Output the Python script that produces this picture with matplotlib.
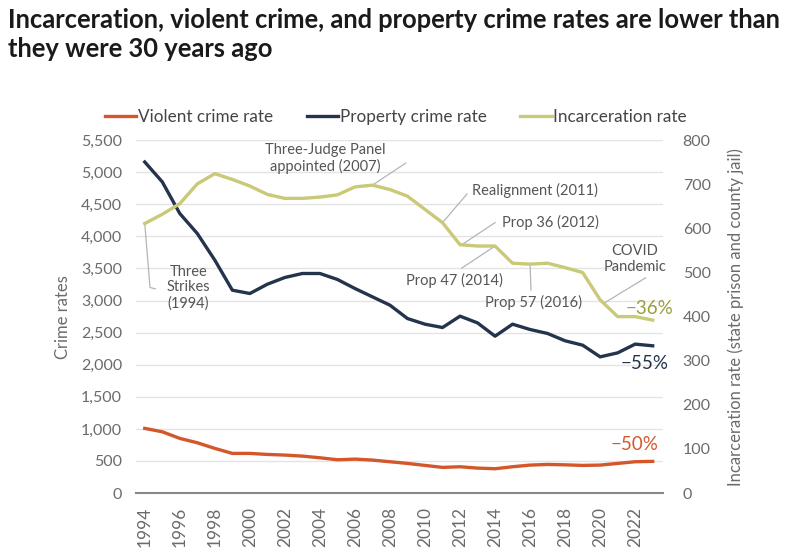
import matplotlib.pyplot as plt
import numpy as np

years = np.arange(1994, 2024)

violent = [1008, 955, 852, 784, 696, 618, 618, 602, 592, 576,
           550, 519, 529, 514, 488, 462, 431, 400, 410, 389,
           379, 410, 436, 446, 440, 431, 436, 462, 488, 494]

property_crime = [5160, 4850, 4357, 4045, 3630, 3162, 3110, 3255, 3360, 3422,
                  3422, 3329, 3188, 3058, 2928, 2720, 2632, 2580, 2757, 2652,
                  2445, 2632, 2549, 2487, 2373, 2305, 2123, 2185, 2321, 2295]

incarceration = [611, 632, 656, 701, 724, 711, 696, 677, 668, 668,
                 671, 676, 694, 698, 688, 673, 643, 613, 563, 560,
                 560, 521, 519, 521, 511, 500, 438, 400, 400, 392]

left_ticks = np.arange(0, 5501, 500)
right_ticks = np.arange(0, 801, 100)
x_ticks = np.arange(1994, 2023, 2)

VIOLENT = "#d4572b"
PROPERTY = "#24344d"
INCAR = "#c9c977"
INCAR_TXT = "#9c9c3c"
GRAY = "#6b6b6b"
LEADER = "#b5b5b5"

plt.rcParams["font.family"] = ["Lato", "DejaVu Sans"]

fig = plt.figure(figsize=(8, 5.54), dpi=100)
ax = fig.add_axes([0.17, 0.110, 0.659, 0.637])
ax2 = ax.twinx()

ax.plot(years, violent, color=VIOLENT, lw=2.4, label="Violent crime rate")
ax.plot(years, property_crime, color=PROPERTY, lw=2.4, label="Property crime rate")
ax2.plot(years, incarceration, color=INCAR, lw=2.4, label="Incarceration rate")

ax.set_xlim(1993.5, 2023.6)
ax.set_ylim(0, 5500)
ax2.set_ylim(0, 800)
ax.set_yticks(left_ticks)
ax.set_yticklabels([f"{v:,}" for v in left_ticks])
ax2.set_yticks(right_ticks)
ax.set_xticks(x_ticks)
ax.set_xticklabels([str(y) for y in x_ticks], rotation=90)

ax.grid(axis="y", color="#e4e4e4", lw=1)
ax.set_axisbelow(True)
for a in (ax, ax2):
    for side in ("top", "left", "right", "bottom"):
        a.spines[side].set_visible(False)
ax.spines["bottom"].set_visible(True)
ax.spines["bottom"].set_color("#888888")
ax.spines["bottom"].set_linewidth(1.5)
ax.tick_params(axis="y", length=0, labelsize=11.5, labelcolor=GRAY, pad=10)
ax.tick_params(axis="x", length=0, labelsize=12.5, labelcolor=GRAY, pad=10)
ax2.tick_params(axis="y", length=0, labelsize=11.5, labelcolor=GRAY, pad=14)

ax.set_ylabel("Crime rates", fontsize=12, color=GRAY, labelpad=7)
ax2.set_ylabel("Incarceration rate (state prison and county jail)",
               fontsize=12, color=GRAY, labelpad=12)

# legend
handles = ax.get_lines() + ax2.get_lines()
ax.legend(handles, [h.get_label() for h in handles], loc="lower center",
          bbox_to_anchor=(0.493, 1.0), ncol=3, frameon=False, fontsize=12.3,
          handlelength=1.85, handletextpad=0.1, columnspacing=1.95,
          labelcolor="#444444")

# annotations on the incarceration line
ann_kw = dict(fontsize=10.5, color="#555555", zorder=6)
line_kw = dict(color=LEADER, lw=0.9, zorder=1)

ax2.plot([1994, 1994.3, 1994.6], [611, 466, 463], **line_kw)
ax2.text(1996.5, 466, "Three\nStrikes\n(1994)", ha="center", va="center",
         linespacing=1.15, **ann_kw)

ax2.plot([2007, 2008.9], [698, 748], **line_kw)
ax2.text(2004.3, 758, "Three-Judge Panel\nappointed (2007)", ha="center",
         va="center", linespacing=1.15, **ann_kw)

ax2.plot([2011, 2012.4], [613, 678], **line_kw)
ax2.text(2012.7, 685, "Realignment (2011)", ha="left", va="center", **ann_kw)

ax2.plot([2012.1, 2014.0], [563, 613], **line_kw)
ax2.text(2014.4, 613, "Prop 36 (2012)", ha="left", va="center", **ann_kw)

ax2.plot([2014, 2012.1], [560, 510], **line_kw)
ax2.text(2011.7, 482, "Prop 47 (2014)", ha="center", va="center", **ann_kw)

ax2.plot([2016, 2016.05], [519, 460], **line_kw)
ax2.text(2016.2, 432, "Prop 57 (2016)", ha="center", va="center", **ann_kw)

ax2.plot([2020.2, 2022.6], [430, 488], **line_kw)
ax2.text(2022.0, 530, "COVID\nPandemic", ha="center", va="center",
         linespacing=1.15, **ann_kw)

ax2.text(2024.2, 419, "\u221236%", ha="right", va="center", fontsize=13.5,
         color=INCAR_TXT)
ax.text(2023.9, 2020, "\u221255%", ha="right", va="center", fontsize=13.5,
        color=PROPERTY)
ax.text(2023.35, 750, "\u221250%", ha="right", va="center", fontsize=13.5,
        color=VIOLENT)

fig.text(0.01, 0.985, "Incarceration, violent crime, and property crime rates are lower than\n"
         "they were 30 years ago", ha="left", va="top", fontsize=18.4,
         fontweight="bold", color="#1a1a1a", linespacing=1.25)

fig.savefig("out.png", dpi=100)
